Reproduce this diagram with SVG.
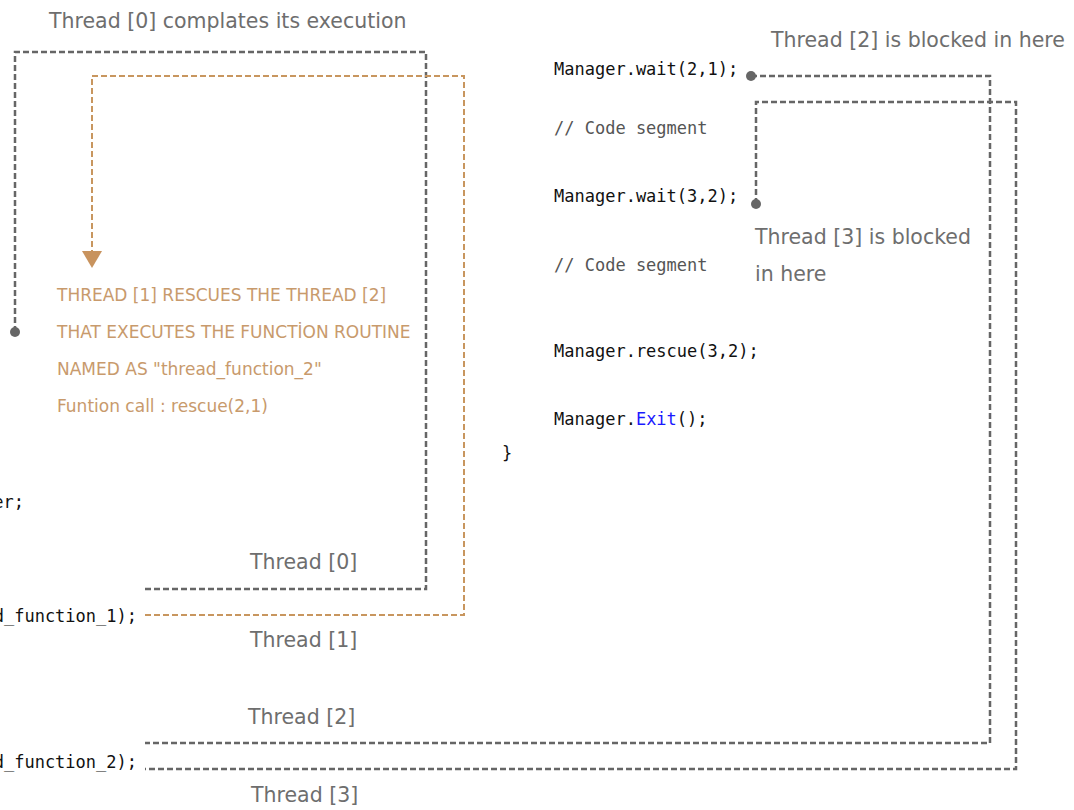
<svg xmlns="http://www.w3.org/2000/svg" width="1074" height="810" viewBox="0 0 1074 810">
<style>
.lbl{font-family:"DejaVu Sans",sans-serif;font-size:20.5px;fill:#6e6e6e}
.org{font-family:"DejaVu Sans",sans-serif;font-size:17px;fill:#c89a6c}
.code{font-family:"DejaVu Sans Mono",monospace;font-size:17px;fill:#111}
.cmt{fill:#555}
.kw{fill:#1a1aff}
.g{fill:none;stroke:#666;stroke-width:2.5;stroke-dasharray:6 3}
.o{fill:none;stroke:#c8965f;stroke-width:2;stroke-dasharray:6 3}
</style>
<rect width="1074" height="810" fill="#fff"/>
<g id="connectors">
<path class="g" d="M15,332 V52 H426 V589 H145"/>
<circle cx="15" cy="332" r="5" fill="#666"/>
<path class="o" d="M145,615 H464 V76 H92 V252"/>
<path d="M82,251 L102,251 L92,268 Z" fill="#c8935e"/>
<path class="g" d="M751,76 H990 V743 H145"/>
<circle cx="751" cy="76" r="5" fill="#666"/>
<path class="g" d="M756,204 V102 H1016 V769 H145"/>
<circle cx="756" cy="204" r="5" fill="#666"/>
</g>
<g id="labels">
<text class="lbl" x="49" y="28">Thread [0] complates its execution</text>
<text class="lbl" x="771" y="47">Thread [2] is blocked in here</text>
<text class="lbl" x="755" y="244">Thread [3] is blocked</text>
<text class="lbl" x="755" y="281">in here</text>
<text class="lbl" x="250" y="569">Thread [0]</text>
<text class="lbl" x="250" y="647">Thread [1]</text>
<text class="lbl" x="248" y="724">Thread [2]</text>
<text class="lbl" x="251" y="802">Thread [3]</text>
</g>
<g id="note">
<text class="org" x="57" y="301">THREAD [1] RESCUES THE THREAD [2]</text>
<text class="org" x="57" y="338">THAT EXECUTES THE FUNCTİON ROUTINE</text>
<text class="org" x="57" y="375">NAMED AS "thread_function_2"</text>
<text class="org" x="57" y="412">Funtion call : rescue(2,1)</text>
</g>
<g id="code-left">
<text class="code" x="24" y="508" text-anchor="end">er;</text>
<text class="code" x="137" y="622" text-anchor="end">d_function_1);</text>
<text class="code" x="137" y="768" text-anchor="end">d_function_2);</text>
</g>
<g id="code-right">
<text class="code" x="554" y="75">Manager.wait(2,1);</text>
<text class="code cmt" x="554" y="134">// Code segment</text>
<text class="code" x="554" y="202">Manager.wait(3,2);</text>
<text class="code cmt" x="554" y="271">// Code segment</text>
<text class="code" x="554" y="357">Manager.rescue(3,2);</text>
<text class="code" x="554" y="425">Manager.<tspan class="kw">Exit</tspan>();</text>
<text class="code" x="502" y="459">}</text>
</g>
</svg>
